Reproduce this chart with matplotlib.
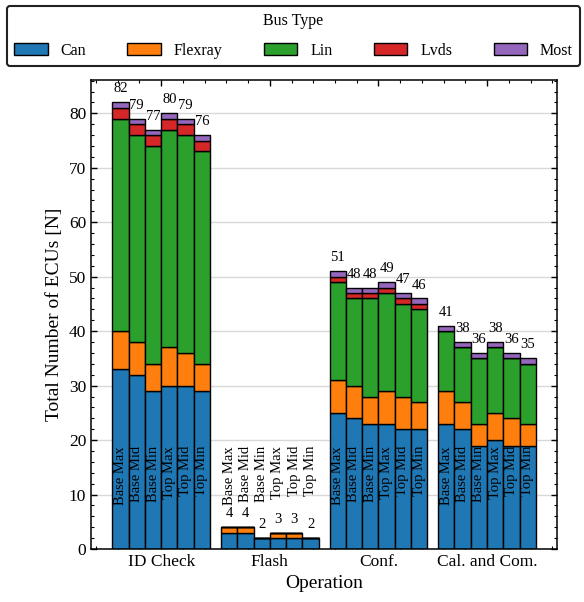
"""ECUs per operation, stacked by bus type"""

import matplotlib.pyplot as plt
import numpy as np
from matplotlib.ticker import AutoMinorLocator, MultipleLocator

operations = ['ID Check', 'Flash', 'Conf.', 'Cal. and Com.']
variants = ['Base Max', 'Base Mid', 'Base Min', 'Top Max', 'Top Mid', 'Top Min']
bus_types = ['Can', 'Flexray', 'Lin', 'Lvds', 'Most']

# one row per operation, one column per variant
can = [[33, 32, 29, 30, 30, 29],
       [3, 3, 2, 2, 2, 2],
       [25, 24, 23, 23, 22, 22],
       [23, 22, 19, 20, 19, 19]]
flexray = [[7, 6, 5, 7, 6, 5],
           [1, 1, 0, 1, 1, 0],
           [6, 6, 5, 6, 6, 5],
           [6, 5, 4, 5, 5, 4]]
lin = [[39, 38, 40, 40, 40, 39],
       [0, 0, 0, 0, 0, 0],
       [18, 16, 18, 18, 17, 17],
       [11, 10, 12, 12, 11, 11]]
lvds = [[2, 2, 2, 2, 2, 2],
        [0, 0, 0, 0, 0, 0],
        [1, 1, 1, 1, 1, 1],
        [0, 0, 0, 0, 0, 0]]
most = [[1, 1, 1, 1, 1, 1],
        [0, 0, 0, 0, 0, 0],
        [1, 1, 1, 1, 1, 1],
        [1, 1, 1, 1, 1, 1]]

colors = ['#1f77b4', '#ff7f0e', '#2ca02c', '#d62728', '#9467bd']

plt.rcParams['font.family'] = ['Liberation Serif', 'DejaVu Serif']
plt.rcParams['xtick.direction'] = 'in'
plt.rcParams['ytick.direction'] = 'in'
plt.rcParams['xtick.top'] = True
plt.rcParams['ytick.right'] = True
plt.rcParams['axes.linewidth'] = 1.1

fig = plt.figure(figsize=(5.84, 6.02), dpi=100)
ax = fig.add_axes([0.156, 0.088, 0.798, 0.779])

width = 0.15
series = [np.array(s, dtype=float) for s in [can, flexray, lin, lvds, most]]
for j in range(len(variants)):
    x = np.arange(len(operations)) + (j - 2.5) * width
    bottom_j = np.zeros(len(operations))
    last = None
    for k, vals in enumerate(series):
        last = ax.bar(x, vals[:, j], width, bottom=bottom_j, color=colors[k],
                      edgecolor='black', linewidth=1,
                      label=bus_types[k] if j == 0 else None, zorder=2)
        bottom_j = bottom_j + vals[:, j]
    totals = bottom_j.astype(int)
    ax.bar_label(last, labels=[str(t) for t in totals], padding=5, fontsize=10.5)
    for i in range(len(operations)):
        ax.text(x[i], 18.9, variants[j], rotation=90, ha='center', va='top',
                fontsize=10.5, zorder=3)

ax.set_xticks(np.arange(len(operations)))
ax.set_xticklabels(operations, fontsize=12.5)
ax.xaxis.set_minor_locator(MultipleLocator(0.2))
ax.yaxis.set_major_locator(MultipleLocator(10))
ax.yaxis.set_minor_locator(AutoMinorLocator(5))
ax.tick_params(axis='y', labelsize=12.5)
ax.tick_params(which='major', length=4, width=1)
ax.tick_params(which='minor', length=2, width=0.8)
ax.set_xlabel('Operation', fontsize=14)
ax.set_ylabel('Total Number of ECUs [N]', fontsize=14)
ax.grid(axis='y', color='#d8d8d8', linewidth=1)
ax.set_axisbelow(True)

leg = fig.legend(loc='upper center', bbox_to_anchor=(0.012, 0, 0.981, 0.99),
                 mode='expand', ncol=5, title='Bus Type', fontsize=11.5,
                 title_fontsize=11.5, borderaxespad=0, handlelength=2.1,
                 handleheight=0.8, borderpad=0.45, labelspacing=0.85,
                 framealpha=1, edgecolor='#222222', fancybox=True)
leg.get_frame().set_linewidth(1.5)

plt.savefig('out.png', dpi=100)
